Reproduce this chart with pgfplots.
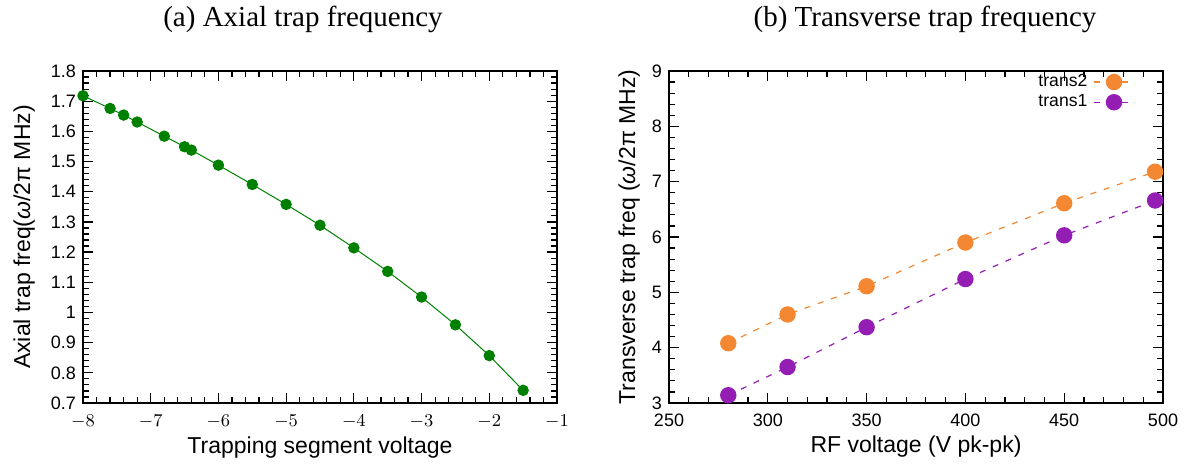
\documentclass[border=0pt]{standalone}
\usepackage{pgfplots}
\pgfplotsset{compat=1.18}
\usepackage{fontspec}
\setmainfont{Liberation Sans}
\newfontfamily\titlefont{Liberation Serif}
\definecolor{gpgreen}{RGB}{0,128,0}
\definecolor{gporange}{RGB}{243,135,50}
\definecolor{gppurple}{RGB}{148,30,180}
\pgfplotsset{
  gpstyle/.style={
    scale only axis,
    height=166pt,
    tick align=inside,
    tick pos=both,
    /pgf/number format/assume math mode=true,
    tick label style={font=\fontsize{9}{11}\selectfont},
    label style={font=\fontsize{11.5}{13}\selectfont},
    xticklabel style={anchor=base, yshift=-12pt},
    xlabel style={at={(axis description cs:0.5,-0.1506)}, anchor=base},
    major tick length=5pt,
    minor tick length=3pt,
    axis line style={line width=0.8pt},
    every tick/.style={black,line width=0.6pt},
  }
}
\begin{document}
\begin{tikzpicture}
\useasboundingbox (0,0) rectangle (594pt,232.5pt);
\node[font=\titlefont\fontsize{14.5}{16}\selectfont] at (151.5pt,223pt) {(a) Axial trap frequency};
\node[font=\titlefont\fontsize{14.5}{16}\selectfont] at (462.5pt,223pt) {(b) Transverse trap frequency};
\begin{axis}[gpstyle,
  at={(41.5pt,31pt)}, anchor=south west,
  width=237pt,
  xmin=-8, xmax=-1, ymin=0.7, ymax=1.8,
  xtick={-8,-7,...,-1},
  ytick={0.7,0.8,...,1.81},
  yticklabels={0.7,0.8,0.9,1,1.1,1.2,1.3,1.4,1.5,1.6,1.7,1.8},
  xticklabels={$-8$,$-7$,$-6$,$-5$,$-4$,$-3$,$-2$,$-1$},
  minor x tick num=4,
  minor y tick num=4,
  xlabel={Trapping segment voltage},
  ylabel={Axial trap freq(\textit{ω}/2π MHz)},
  ylabel style={at={(axis description cs:-0.1118,0.5)}, anchor=base},
  clip=false,
]
\addplot[color=gpgreen, line width=0.5pt, mark=*, mark size=2.6pt, mark options={fill=gpgreen,draw=gpgreen}] coordinates {
(-8,1.718) (-7.6,1.676) (-7.4,1.654) (-7.2,1.631) (-6.8,1.584) (-6.5,1.549) (-6.4,1.538)
(-6,1.488) (-5.5,1.424) (-5,1.358) (-4.5,1.289) (-4,1.214) (-3.5,1.136) (-3,1.051)
(-2.5,0.959) (-2,0.857) (-1.5,0.742)
};
\end{axis}
\begin{axis}[gpstyle,
  at={(334.5pt,31pt)}, anchor=south west,
  width=247pt,
  xmin=250, xmax=500, ymin=3, ymax=9,
  xtick={250,300,...,500},
  ytick={3,4,...,9},
  minor x tick num=4,
  minor y tick num=4,
  xlabel={RF voltage (V pk-pk)},
  ylabel={Transverse trap freq (\textit{ω}/2π MHz)},
  ylabel style={at={(axis description cs:-0.0688,0.5)}, anchor=base},
  legend cell align=right,
  legend plot pos=right,
  legend image code/.code={\draw[mark repeat=2,mark phase=2] plot coordinates {(0pt,0pt) (10pt,0pt) (20pt,0pt)};},
  legend style={draw=none, fill=none, inner sep=0pt, font=\fontsize{8.8}{10}\selectfont,
    at={(1,1)}, anchor=north east, xshift=-14pt, yshift=-0.5pt, row sep=0.5pt, column sep=2pt,
    nodes={inner sep=1pt}},
  clip=false,
]
\addplot[color=gporange, dash pattern=on 3pt off 4pt, line width=0.6pt, mark=*, mark size=3.8pt, mark options={solid,fill=gporange,draw=gporange}] coordinates {
(280,4.08) (310,4.60) (350,5.11) (400,5.90) (450,6.61) (496,7.18)
};
\addlegendentry{trans2}
\addplot[color=gppurple, dash pattern=on 3pt off 4pt, line width=0.6pt, mark=*, mark size=3.8pt, mark options={solid,fill=gppurple,draw=gppurple}] coordinates {
(280,3.14) (310,3.65) (350,4.37) (400,5.24) (450,6.03) (496,6.66)
};
\addlegendentry{trans1}
\end{axis}
\end{tikzpicture}
\end{document}
